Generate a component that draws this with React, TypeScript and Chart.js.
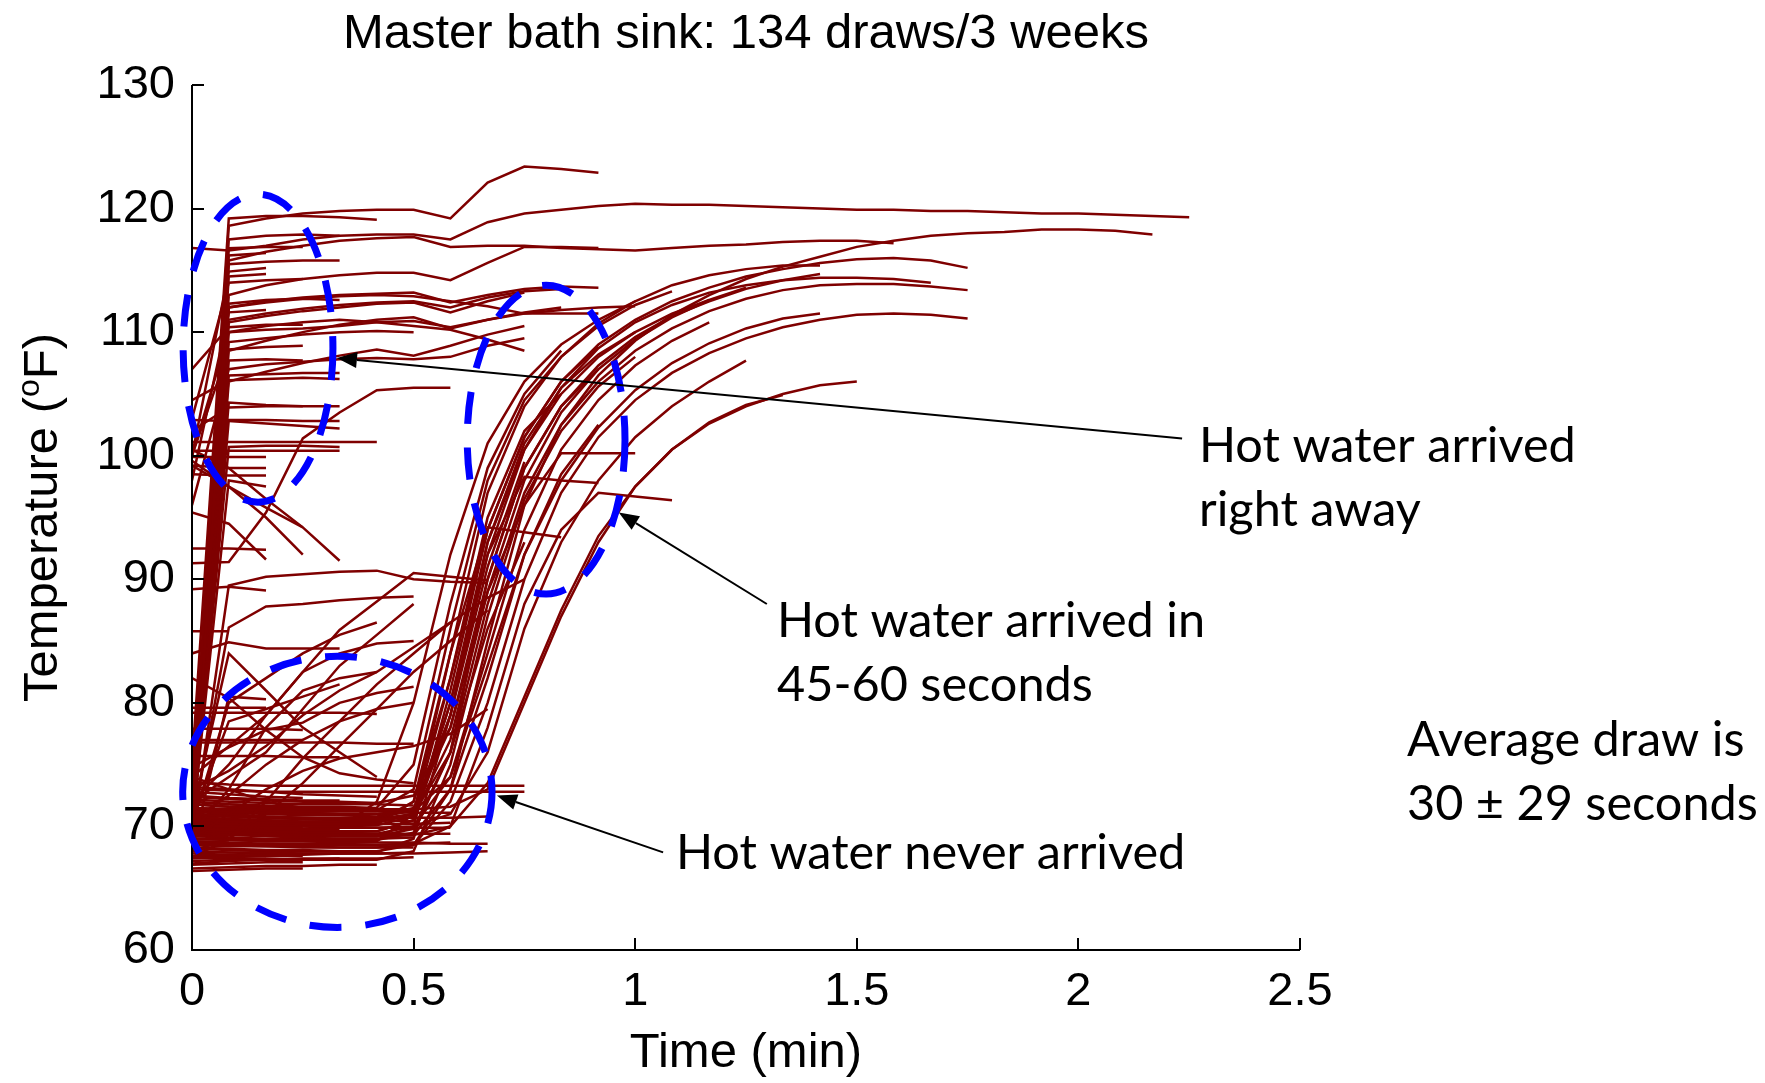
import React, { useEffect, useRef } from "react";
import { Chart, registerables } from "chart.js";

Chart.register(...registerables);

// Sample clock: one temperature reading every 5 seconds (minutes)
const TIME_MIN = [
  0, 0.083, 0.167, 0.25, 0.333, 0.417, 0.5, 0.583, 0.667, 0.75, 0.833, 0.917, 1.0, 1.083,
  1.167, 1.25, 1.333, 1.417, 1.5, 1.583, 1.667, 1.75, 1.833, 1.917, 2.0, 2.083, 2.167, 2.25,
];
const X_TICKS = [0, 0.5, 1, 1.5, 2, 2.5];
const Y_TICKS = [60, 70, 80, 90, 100, 110, 120, 130];

// Draws where hot water was there right away (°F per 5 s sample)
const HOT_RIGHT_AWAY: number[][] = [
  [72, 118.6, 119.2, 119.6, 119.8, 119.9, 119.9, 119.2, 122.1, 123.4, 123.2, 122.9],
  [116.8, 116.6, 117.0, 117.5, 117.8, 117.9, 117.9, 117.5, 118.9, 119.6, 119.9, 120.2, 120.4, 120.3, 120.3, 120.2, 120.1, 120.0, 119.9, 119.9, 119.8, 119.8, 119.7, 119.6, 119.6, 119.5, 119.4, 119.3],
  [75, 119.2, 119.4, 119.4, 119.3, 119.1],
  [68, 115.8, 116.5, 117.0, 117.4, 117.6, 117.7, 116.9, 117.0, 117.0, 116.8, 116.7, 116.6, 116.8, 117.0, 117.1, 117.3, 117.4, 117.4, 117.2],
  [71, 113.0, 113.8, 114.3, 114.6, 114.8, 114.8, 114.2, 115.6, 116.9, 116.9, 116.8],
  [70, 112.0, 112.5, 112.8, 113.0, 113.1, 113.2, 112.4, 113.0, 113.5, 113.7, 113.6],
  [70, 117.5, 117.8, 117.9, 117.8],
  [71, 116.8, 116.9, 116.9],
  [68, 116.2, 116.4],
  [73, 115.5, 115.7, 115.8, 115.8],
  [100, 114.9, 115.2],
  [69, 114.5, 114.7],
  [103, 114.0, 114.2, 114.3],
  [72, 112.3, 112.6, 112.7, 112.6],
  [98, 111.6, 111.8],
  [70, 111.0, 111.5, 111.9, 112.2, 112.4, 112.5, 112.0, 112.8, 113.3, 113.5],
  [107, 110.4, 110.6, 110.6],
  [69, 110.0, 110.2, 110.3, 110.5, 110.8, 110.9, 110.4, 111.0, 111.5, 111.8, 112.0, 112.1],
  [74, 109.2, 109.5, 109.8, 110.0, 110.1, 110.0],
  [100, 108.6, 108.8, 108.9],
  [70, 107.7, 107.8, 107.7],
  [96, 107.0, 107.4, 107.6, 107.8, 107.9, 107.8, 108.0, 108.9, 109.5],
  [71, 106.5, 106.6, 106.7, 106.7],
  [104.5, 106.1, 106.2, 106.3, 106.2],
  [91.3, 91.4, 95.4, 101.4, 103.5, 105.3, 105.5, 105.5],
  [70, 104.3, 104.1, 104.0, 104.0],
  [102, 103.9, 104.0, 104.0],
  [102.9, 102.8, 102.6, 102.4, 102.2],
  [69, 102.9, 102.9, 102.8, 102.8],
  [101.1, 101.1, 101.1, 101.1, 101.1, 101.1],
  [100.4, 100.4, 100.4, 100.4, 100.4],
  [70, 100.7, 100.8, 100.8, 100.7],
  [99.9, 99.9, 99.9],
  [99.2, 99.0, 99.0],
  [98.5, 98.4, 98.4],
  [70, 98.0, 97.5],
  [95.4, 94.5, 91.6],
  [99.6, 97.5, 95.8, 94.2],
  [100.5, 99.0, 96.5, 94.2, 91.5],
  [99.2, 97.5, 95.0, 92.0],
  [92.5, 92.5, 92.4],
  [89.2, 89.4, 89.1],
  [85.8, 85.8],
  [70, 86.1, 87.8, 88.0, 88.3, 88.5, 88.6],
  [69, 89.5, 90.2, 90.4, 90.6, 90.7, 90.0, 89.8, 89.7],
  [70, 110.8, 111.3, 111.7, 112.0, 112.3, 112.4, 111.6, 112.5, 113.2],
  [72, 108.5, 109.3, 110.0, 110.6, 111.0, 111.2, 110.3, 111.0, 111.6, 112.0],
  [69, 106.0, 106.8, 107.5, 108.1, 108.6, 108.1, 108.9, 109.8, 110.5],
  [71, 112.0, 112.4, 112.7, 112.9, 113.0, 112.9, 112.5, 112.1, 111.5, 111.5, 111.5],
  [100, 110.0, 110.5, 110.8, 111.0, 110.8, 110.5, 110.2, 109.4, 108.5],
];

// Draws that warmed slowly or partly
const GRADUAL_WARMING: number[][] = [
  [72, 75, 79, 82.5, 85.9, 88.2, 90.5, 90.2, 89.9],
  [74.8, 76.4, 77.8, 78.4, 80.0, 80.8, 81.3],
  [82, 80.4, 77.8, 75.6, 74.3, 73.8, 73.5],
  [84.0, 84.9, 84.4, 84.4, 84.4],
  [68, 80.5, 80.3],
  [79.6, 79.6, 79.6],
  [79.2, 79.2, 79.2, 79.2, 79.2, 79.1],
  [77.9, 77.9, 77.9, 77.8],
  [77.0, 77.0, 77.0, 77.0],
  [76.8, 76.8, 76.8, 76.8, 76.8, 76.7, 76.7],
  [75.7, 75.7, 75.7, 75.6, 75.6],
  [68, 69, 72, 75.5, 78.5, 81.5, 84, 86.5],
  [67.5, 69, 71, 73.5, 76.5, 79.5, 82.5, 85.0, 87.5],
  [70.5, 72.5, 75, 77, 78.5, 79.5, 80.0],
  [73, 74.5, 76.5, 79, 81, 82.5, 84.5, 86.5, 88.5, 90.0],
  [69, 71, 73, 74.5, 75.5, 76, 76.5, 77.5, 79.5],
  [72, 74, 76, 79.5, 83, 85.5, 88],
  [70, 80, 82, 84, 85.5, 86.5],
  [71, 84, 81, 78, 76, 74],
  [74, 76.5, 79, 82.5, 84, 84.8, 85],
  [69.5, 73, 78, 81, 82, 82.5],
  [70.5, 78.5, 79.5, 80.5, 81.5],
];

// Draws where hot water arrived after 45-60 seconds
const HOT_AFTER_45_60S: number[][] = [
  [70.5, 70.3, 70.2, 70.1, 70.1, 70.2, 72, 82, 94, 101.5, 106, 109, 111, 112.5, 113.6, 114.5, 115.1, 115.6, 115.9, 116.0, 115.8, 115.2],
  [69.5, 69.4, 69.3, 69.3, 69.2, 69.2, 69.3, 73, 85, 96, 102.5, 106.5, 109.3, 111.4, 113, 114.3, 115.3, 116.1, 116.9, 117.4, 117.8, 118.0, 118.1, 118.3, 118.3, 118.2, 117.9],
  [71, 70.8, 70.7, 70.6, 70.6, 70.5, 71, 76, 88, 97, 102.5, 106, 108.5, 110.3, 111.7, 112.7, 113.4, 113.8, 113.9, 113.9, 113.7, 113.4],
  [68.5, 68.4, 68.4, 68.3, 68.3, 68.3, 68.5, 72, 80, 90, 97, 101.5, 104.5, 106.7, 108.3, 109.5, 110.4, 111.0, 111.4, 111.5, 111.4, 111.1],
  [70, 69.8, 69.7, 69.6, 69.6, 69.6, 70.5, 79, 92, 100.5, 105.5, 108.7, 110.8, 112.2, 113.2, 113.8, 114.2, 114.4, 114.4, 114.3, 114.0],
  [69, 68.9, 68.8, 68.8, 68.8, 68.8, 71, 84, 97, 104, 108, 110.7, 112.5, 113.8, 114.6, 115.1, 115.4, 115.4],
  [71.5, 71.3, 71.2, 71.1, 71.0, 71.0, 71.2, 74, 83, 92, 98, 102.3, 105.3, 107.5, 109.1, 110.3, 111.1, 111.5],
  [72, 71.8, 71.6, 71.5, 71.5, 71.4, 71.4, 71.6, 73, 80, 87, 93, 97.5, 100.5, 102.6, 104.0, 105.0, 105.7, 106.0],
  [69.5, 69.4, 69.3, 69.2, 69.2, 69.2, 69.3, 70, 73.5, 80.5, 87.5, 93.5, 97.5, 100.5, 102.7, 104.1, 104.9],
  [70.2, 70.1, 70.0, 70.0, 69.9, 69.9, 70.0, 71, 76, 86, 93, 98, 101.5, 104, 106, 107.7],
  [68.8, 68.7, 68.6, 68.6, 68.6, 68.5, 68.6, 70, 78, 88, 94, 97.0, 96.7, 96.4],
  [71.3, 71.1, 71.0, 70.9, 70.9, 70.8, 71.5, 78, 89, 96, 100.2, 100.2, 100.2],
  [69.9, 69.8, 69.7, 69.7, 69.6, 69.6, 70.5, 80, 92, 98.3, 98.0, 97.8],
  [70.7, 70.6, 70.5, 70.4, 70.4, 70.4, 72, 84, 94.2, 93.8, 93.4],
  [68, 67.9, 67.8, 67.8, 67.8, 67.9, 69, 79, 93, 101, 105.5, 108.2, 110],
  [71.8, 71.6, 71.5, 71.4, 71.3, 71.3, 73, 86, 98, 104.5, 108, 110.5, 112.2, 113.3],
  [69.2, 69.1, 69.0, 69.0, 68.9, 68.9, 70, 81, 94, 101.5, 106, 108.8],
  [70.4, 70.3, 70.2, 70.1, 70.1, 70.1, 70.8, 77, 89, 98, 103.5, 107, 109.4, 111.2, 112.6, 113.6],
  [67.5, 67.4, 67.4, 67.3, 67.3, 67.3, 68, 75, 87, 96.5, 102, 105.6, 108],
  [72.4, 72.2, 72.1, 72.0, 72.0, 71.9, 72.5, 78, 90, 99, 104, 107],
  [69.7, 69.6, 69.5, 69.5, 69.4, 69.4, 70, 74, 84, 94, 100.5, 104.5, 107.3, 109.3, 110.8],
  [70.9, 70.8, 70.7, 70.6, 70.6, 70.6, 71, 82, 95, 102, 105],
  [68.2, 68.1, 68.0, 68.0, 68.0, 68.0, 68.5, 73, 82, 92, 98.5, 102.5],
  [71.0, 70.9, 70.8, 70.7, 70.7, 70.7, 71.3, 79, 91, 99.5],
  [69.4, 69.3, 69.3, 69.2, 69.2, 69.2, 69.8, 76, 86, 93],
  [70, 69.9, 69.8, 69.8, 69.9, 72, 80, 92, 101, 106, 109, 111, 112.5],
  [71.5, 71.4, 71.4, 71.3, 71.3, 71.5, 75, 88, 99, 105, 108.5],
  [69, 69, 68.9, 68.9, 68.9, 68.9, 69.5, 76, 90, 99, 104, 107.3, 109.6, 111.3, 112.5, 113.5, 114.2, 114.7],
  [70.6, 70.5, 70.4, 70.3, 70.3, 70.3, 71, 80, 93, 100.5, 105, 108, 110, 111.5, 112.6],
];

// Draws where hot water never arrived
const NEVER_ARRIVED: number[][] = [
  [69.5, 69.3, 69.2, 69.1, 69.0, 69.0, 69.1],
  [71.2, 71.0, 70.8, 70.7, 70.6, 70.6, 70.7, 70.7, 70.8],
  [67.0, 67.2, 67.3, 67.3, 67.4, 67.4, 67.5],
  [72.5, 72.3, 72.2, 72.1, 72.1],
  [68.3, 68.2, 68.1, 68.1, 68.0, 68.0],
  [70.1, 70.0, 69.9, 69.9],
  [73.6, 73.4, 73.3, 73.3, 73.3, 73.3, 73.3, 73.3, 73.3, 73.3],
  [73.0, 72.9, 72.8, 72.8, 72.8, 72.8, 72.8, 72.8, 72.8, 72.8],
  [66.6, 66.7, 66.8, 66.8, 66.9, 66.9],
  [69.0, 68.9, 68.8, 68.8, 68.7, 68.7, 68.7, 68.6, 68.6],
  [71.8, 71.6, 71.5, 71.4, 71.4, 71.3, 71.3],
  [70.6, 70.4, 70.3],
  [68.8, 68.7],
  [67.8, 67.7, 67.6, 67.6],
  [72.0, 71.8, 71.7, 71.6, 71.6, 71.5],
  [69.8, 69.7, 69.6, 69.5, 69.5, 69.4, 69.4, 69.4],
  [70.8, 70.6, 70.5, 70.4, 70.4],
  [67.4, 67.5, 67.6],
  [71.0, 70.8, 70.7, 70.6, 70.5, 70.5, 70.4],
  [68.5, 68.5, 68.4, 68.4, 68.3, 68.3, 68.3],
  [73.2, 73.0, 72.8, 72.6, 72.5, 72.4],
  [69.3, 69.2],
  [70.3, 70.2, 70.1, 70.0, 70.0, 69.9, 69.9, 69.9],
  [66.9, 67.0, 67.1, 67.1],
  [72.8, 72.6, 72.4, 72.3],
  [71.5, 71.4, 71.3, 71.2, 71.2, 71.2, 71.1, 71.1],
  [68.0, 67.9, 67.9, 67.8, 67.8, 67.8, 67.8, 67.9, 68.0],
  [74.0, 73.0, 72.0, 71.5],
  [70.9, 70.9, 70.8],
  [69.6, 69.5, 69.4, 69.4, 69.3],
  [67.2, 67.3, 67.3, 67.4, 67.4],
  [71.3, 71.2, 71.1, 71.1, 71.0, 71.0],
  [66.4, 66.5, 66.6, 66.6],
  [68.7, 68.6, 68.6, 68.5, 68.5, 68.5, 68.6, 68.7],
  [72.2, 72.0, 71.9, 71.8, 71.8, 71.8, 71.7],
  [69.9, 69.8, 69.8, 69.7, 69.7],
  [67.6, 67.6, 67.7, 67.7, 67.8, 67.8, 67.9],
  [70.4, 70.3, 70.3, 70.2, 70.2, 70.2, 70.2, 70.3],
];

const TITLE = "Master bath sink: 134 draws/3 weeks";
const X_TITLE = "Time (min)";
const Y_TITLE_PARTS = ["Temperature (", "o", "F)"];

// Highlight ellipses and arrows, in data units
const ELLIPSES = [
  { cx: 0.149, cy: 108.7, rx: 0.169, ry: 12.46 },
  { cx: 0.799, cy: 101.3, rx: 0.178, ry: 12.5 },
  { cx: 0.328, cy: 72.8, rx: 0.349, ry: 10.97 },
];
const ARROWS = [
  { from: [2.234, 101.4], to: [0.327, 107.9] },
  { from: [1.297, 88.0], to: [0.963, 95.4] },
  { from: [1.063, 67.9], to: [0.688, 72.5] },
];
const NOTES = [
  { lines: ["Hot water arrived", "right away"], x: 1199, y: 462 },
  { lines: ["Hot water arrived in", "45-60 seconds"], x: 777, y: 637 },
  { lines: ["Hot water never arrived"], x: 676, y: 869 },
  { lines: ["Average draw is", "30 ± 29 seconds"], x: 1407, y: 756 },
];

const LINE_COLOR = "#7f0000";
const AXIS_FONT = "'Liberation Sans', Arial, sans-serif";
const NOTE_FONT = "Lato, 'Open Sans', sans-serif";

const overlayPlugin = {
  id: "overlay",
  afterDraw(chart: any) {
    const ctx: CanvasRenderingContext2D = chart.ctx;
    const xs = chart.scales.x;
    const ys = chart.scales.y;
    const { left, right, top, bottom } = chart.chartArea;
    const px = (v: number) => xs.getPixelForValue(v);
    const py = (v: number) => ys.getPixelForValue(v);
    const sx = (xs.right - xs.left) / (xs.max - xs.min);
    const sy = (ys.bottom - ys.top) / (ys.max - ys.min);

    ctx.save();
    // axes
    ctx.strokeStyle = "#000";
    ctx.lineWidth = 2;
    ctx.setLineDash([]);
    ctx.beginPath();
    ctx.moveTo(left, top);
    ctx.lineTo(left, bottom);
    ctx.lineTo(right, bottom);
    ctx.stroke();
    ctx.beginPath();
    X_TICKS.forEach((v) => {
      const x = Math.round(px(v));
      ctx.moveTo(x, bottom);
      ctx.lineTo(x, bottom - 12);
    });
    Y_TICKS.forEach((v) => {
      const y = Math.round(py(v));
      ctx.moveTo(left, y);
      ctx.lineTo(left + 12, y);
    });
    ctx.stroke();

    // ellipses
    ctx.strokeStyle = "#0000ff";
    ctx.lineWidth = 7;
    ctx.setLineDash([32, 24]);
    ELLIPSES.forEach((e) => {
      ctx.beginPath();
      ctx.ellipse(px(e.cx), py(e.cy), e.rx * sx, e.ry * sy, 0, 0, Math.PI * 2);
      ctx.stroke();
    });
    ctx.setLineDash([]);

    // arrows
    ctx.strokeStyle = "#000";
    ctx.fillStyle = "#000";
    ctx.lineWidth = 2;
    ARROWS.forEach((a) => {
      const x1 = px(a.from[0]), y1 = py(a.from[1]);
      const x2 = px(a.to[0]), y2 = py(a.to[1]);
      const ang = Math.atan2(y2 - y1, x2 - x1);
      const L = 20, W = 8;
      const bx = x2 - L * Math.cos(ang), by = y2 - L * Math.sin(ang);
      ctx.beginPath();
      ctx.moveTo(x1, y1);
      ctx.lineTo(bx, by);
      ctx.stroke();
      ctx.beginPath();
      ctx.moveTo(x2, y2);
      ctx.lineTo(bx + W * Math.sin(ang), by - W * Math.cos(ang));
      ctx.lineTo(bx - W * Math.sin(ang), by + W * Math.cos(ang));
      ctx.closePath();
      ctx.fill();
    });

    // notes
    ctx.font = `100px ${NOTE_FONT}`;
    const refW = ctx.measureText("Hot water arrived").width;
    const noteSize = (100 * 377) / refW;
    ctx.font = `${noteSize}px ${NOTE_FONT}`;
    ctx.textAlign = "left";
    ctx.textBaseline = "alphabetic";
    NOTES.forEach((n) => {
      n.lines.forEach((t, i) => ctx.fillText(t, n.x, n.y + i * 64));
    });

    // title
    ctx.font = `49px ${AXIS_FONT}`;
    ctx.textAlign = "center";
    ctx.fillText(TITLE, (left + right) / 2, 48);
    // x title
    ctx.fillText(X_TITLE, (left + right) / 2, 1067);
    // y title with superscript
    ctx.save();
    ctx.translate(57, (top + bottom) / 2);
    ctx.rotate(-Math.PI / 2);
    ctx.textAlign = "left";
    const big = `49px ${AXIS_FONT}`;
    const small = `32px ${AXIS_FONT}`;
    ctx.font = big;
    const w0 = ctx.measureText(Y_TITLE_PARTS[0]).width;
    const w2 = ctx.measureText(Y_TITLE_PARTS[2]).width;
    ctx.font = small;
    const w1 = ctx.measureText(Y_TITLE_PARTS[1]).width;
    const x0 = -(w0 + w1 + w2) / 2;
    ctx.font = big;
    ctx.fillText(Y_TITLE_PARTS[0], x0, 0);
    ctx.font = small;
    ctx.fillText(Y_TITLE_PARTS[1], x0 + w0, -18);
    ctx.font = big;
    ctx.fillText(Y_TITLE_PARTS[2], x0 + w0 + w1, 0);
    ctx.restore();

    ctx.restore();
  },
};

export default function App() {
  const ref = useRef<HTMLCanvasElement>(null);
  useEffect(() => {
    const all = [...HOT_RIGHT_AWAY, ...GRADUAL_WARMING, ...NEVER_ARRIVED, ...HOT_AFTER_45_60S];
    const datasets = all.map((temps) => ({
      data: temps.map((y, i) => ({ x: TIME_MIN[i], y })),
      borderColor: LINE_COLOR,
      backgroundColor: LINE_COLOR,
      borderWidth: 2.5,
      pointRadius: 0,
      showLine: true,
      fill: false,
      tension: 0,
    }));
    const chart = new Chart(ref.current as HTMLCanvasElement, {
      type: "scatter",
      data: { datasets },
      options: {
        animation: false,
        responsive: false,
        devicePixelRatio: 1,
        events: [],
        layout: { padding: { left: 0, top: 85, right: 465, bottom: 0 } },
        plugins: { legend: { display: false }, tooltip: { enabled: false }, title: { display: false } },
        scales: {
          x: {
            type: "linear",
            min: 0,
            max: 2.5,
            grid: { display: false, drawTicks: false },
            border: { display: false },
            ticks: {
              stepSize: 0.5,
              color: "#000",
              padding: 14,
              maxRotation: 0,
              autoSkip: false,
              font: { family: AXIS_FONT, size: 47 },
              callback: (v: any) => String(Number(v)),
            },
            afterFit: (s: any) => {
              s.height = 133;
            },
          },
          y: {
            type: "linear",
            min: 60,
            max: 130,
            grid: { display: false, drawTicks: false },
            border: { display: false },
            ticks: {
              stepSize: 10,
              color: "#000",
              padding: 17,
              autoSkip: false,
              font: { family: AXIS_FONT, size: 47 },
              callback: (v: any) => String(Number(v)),
            },
            afterFit: (s: any) => {
              s.width = 192;
            },
          },
        },
      } as any,
      plugins: [overlayPlugin],
    });
    return () => chart.destroy();
  }, []);
  return (
    <div style={{ position: "absolute", left: 0, top: 0, width: 1765, height: 1083, background: "#fff" }}>
      <canvas ref={ref} width={1765} height={1083} style={{ width: 1765, height: 1083, display: "block" }} />
    </div>
  );
}
